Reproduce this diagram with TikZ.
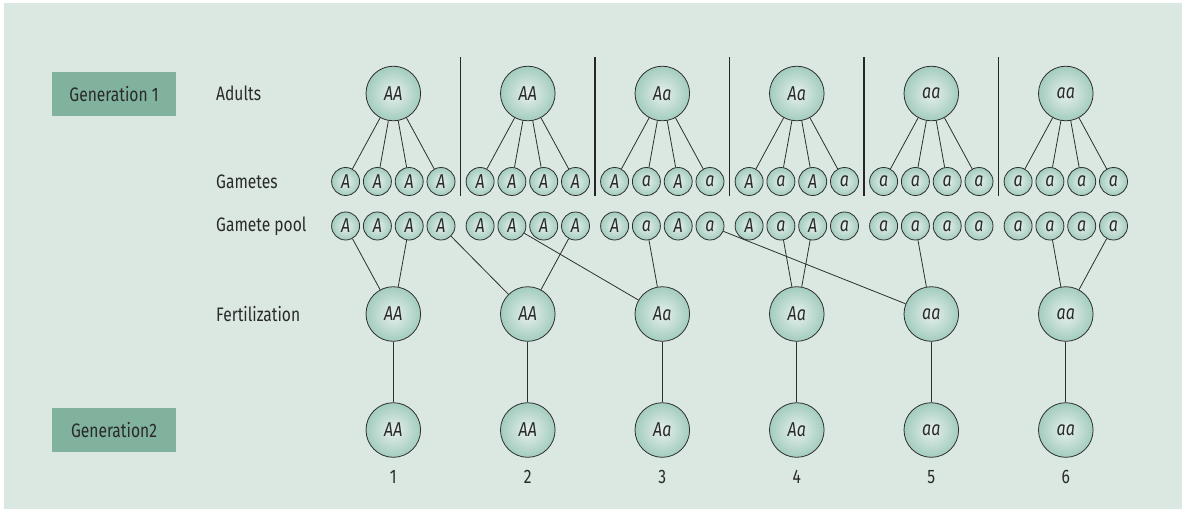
\documentclass[tikz,border=0pt]{standalone}
\usepackage{fontspec}
\setmainfont{Fira Sans}[FakeStretch=0.8]
\definecolor{bgc}{HTML}{DAE8E1}
\definecolor{boxc}{HTML}{80B29D}
\definecolor{linec}{HTML}{2E2E2E}
\definecolor{txtc}{HTML}{2A2A2A}
\definecolor{cin}{HTML}{E6F0EC}
\definecolor{cout}{HTML}{A3CCBF}
\begin{document}
\begin{tikzpicture}[x=1pt,y=-1pt,
  every node/.style={text=txtc, font=\fontsize{19.5}{21}\selectfont},
  cell/.style={circle, draw=linec, line width=0.8pt, inner sep=0pt, shading=radial, inner color=cin, outer color=cout, font=\fontsize{20}{21}\selectfont\itshape},
  bigcell/.style={cell, minimum size=54.6pt},
  smallcell/.style={cell, minimum size=28pt},
  genbox/.style={fill=boxc, minimum width=124pt, minimum height=44pt, inner sep=0pt},
  rowlabel/.style={anchor=west, inner sep=0pt},
  conn/.style={draw=linec, line width=0.8pt},
  sep/.style={draw=black!85, line width=1.3pt}]
\useasboundingbox (0,0) rectangle (1185,512);
\fill[white] (0,0) rectangle (1185,512);
\fill[bgc] (4,3) rectangle (1182,509);
% generation boxes and row labels
\node[genbox] (g1) at (114,94) {Generation 1};
\node[genbox] (g2) at (114,430) {Generation2};
\node[rowlabel] (lad) at (216,93.5) {Adults};
\node[rowlabel] (lga) at (216,181.5) {Gametes};
\node[rowlabel] (lpo) at (216,226) {Gamete pool};
\node[rowlabel] (lfe) at (216,314) {Fertilization};
% separators
\foreach \k in {0,...,4}{
  \coordinate (st\k) at ({460.5+134.5*\k},57);
  \coordinate (sb\k) at ({460.5+134.5*\k},196);
  \draw[sep] (st\k) -- (sb\k);
}
% columns
\foreach \c/\gen/\ga/\gb/\gc/\gd in {1/AA/A/A/A/A, 2/AA/A/A/A/A, 3/Aa/A/a/A/a, 4/Aa/A/a/A/a, 5/aa/a/a/a/a, 6/aa/a/a/a/a}{
  \pgfmathsetmacro{\cx}{393.3+134.5*(\c-1)}
  \node[bigcell] (adult\c) at (\cx,93.5) {\gen};
  \node[bigcell] (fert\c) at (\cx,314) {\gen};
  \node[bigcell] (gen\c) at (\cx,430) {\gen};
  \node (num\c) at (\cx,477) {\c};
  \foreach \g/\off/\al in {1/-47.7/\ga, 2/-15.9/\gb, 3/15.9/\gc, 4/47.7/\gd}{
    \node[smallcell] (gam\c-\g) at (\cx+\off,181.5) {\al};
    \node[smallcell] (pool\c-\g) at (\cx+\off,226) {\al};
  }
}
% connectors adults -> gametes, fert -> gen2
\foreach \c in {1,...,6}{
  \foreach \g in {1,...,4}{
    \draw[conn] (adult\c) -- (gam\c-\g);
  }
  \draw[conn] (fert\c) -- (gen\c);
}
% gamete pool -> fertilization
\foreach \p/\f in {1-1/1, 1-3/1, 1-4/2, 2-4/2, 2-2/3, 3-2/3, 4-2/4, 4-3/4, 3-4/5, 5-2/5, 6-2/6, 6-4/6}{
  \draw[conn] (pool\p) -- (fert\f);
}
\end{tikzpicture}
\end{document}
